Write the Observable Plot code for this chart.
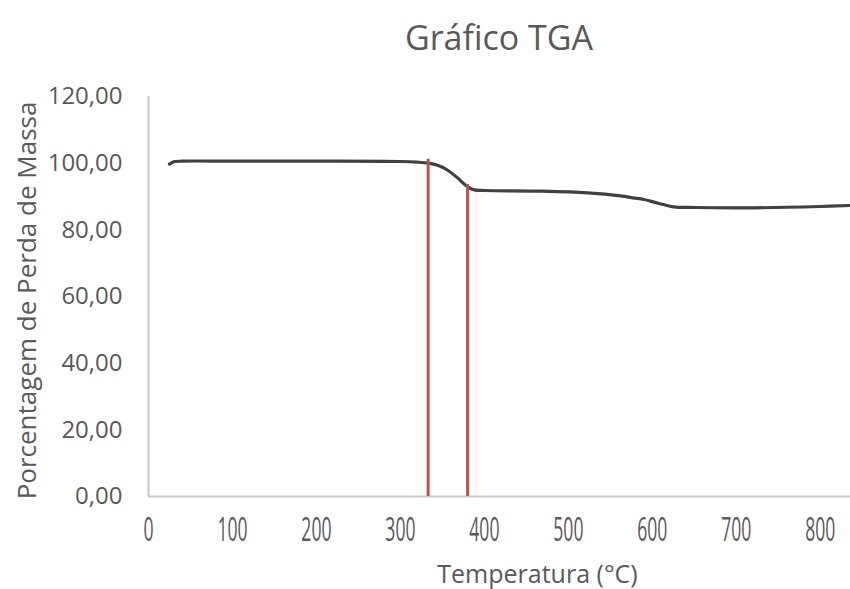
<!DOCTYPE html>
<html>
<head>
<meta charset="utf-8">
<script src="https://cdn.jsdelivr.net/npm/d3@7"></script>
<script src="https://cdn.jsdelivr.net/npm/@observablehq/plot@0.6"></script>
<style>
  html, body { margin: 0; padding: 0; background: #fff; }
  #chart { width: 850px; height: 589px; overflow: hidden; font-family: "Open Sans", sans-serif; }
  .title {
    height: 70px; line-height: 74px; box-sizing: border-box;
    padding-left: 148px; text-align: center;
    font-size: 34px; color: #595959;
  }
</style>
</head>
<body>
<div id="chart">
  <div class="title">Gráfico TGA</div>
</div>
<script>
// Thermogravimetric curve: temperature (°C) and remaining mass (%)
const temperature = [25, 30, 40, 100, 200, 300, 320, 333, 345, 355, 368, 380, 388, 400, 467, 523, 562, 577, 590, 601, 613, 625, 650, 720, 800, 836];
const massPercent = [99.7, 100.4, 100.6, 100.6, 100.6, 100.5, 100.3, 100.0, 99.3, 98.1, 95.6, 92.9, 92.0, 91.8, 91.6, 91.1, 90.2, 89.6, 89.1, 88.4, 87.6, 86.9, 86.7, 86.6, 87.0, 87.3];

// Onset / end markers of the main mass-loss step
const markerTemp = [333, 380];
const markerTop = [101.2, 93.6];

const yTicks = [0, 20, 40, 60, 80, 100, 120];
const xTicks = [0, 100, 200, 300, 400, 500, 600, 700, 800];

const curve = temperature.map((t, i) => ({temp: t, mass: massPercent[i]}));
const markers = markerTemp.map((t, i) => ({temp: t, top: markerTop[i]}));

const fmt = d => d.toFixed(2).replace(".", ",");

const plot = Plot.plot({
  width: 850,
  height: 519,
  marginTop: 26,
  marginBottom: 93,
  marginLeft: 148,
  marginRight: 0,
  style: {fontFamily: "'Open Sans', sans-serif", color: "#595959", background: "#fff"},
  x: {domain: [0, 836]},
  y: {domain: [0, 120]},
  marks: [
    Plot.axisY({ticks: yTicks, tickFormat: fmt, tickSize: 0, tickPadding: 26, fontSize: 24, label: null}),
    Plot.axisX({ticks: xTicks, tickSize: 0, tickPadding: 22, fontSize: 32, label: null, className: "xtick"}),
    Plot.ruleX([0], {y1: 0, y2: 120, stroke: "#c8c8c8", strokeWidth: 2}),
    Plot.ruleY([0], {stroke: "#c8c8c8", strokeWidth: 2}),
    Plot.line(curve, {x: "temp", y: "mass", stroke: "#404040", strokeWidth: 3.2, curve: "catmull-rom", clip: true}),
    Plot.ruleX(markers, {x: "temp", y1: 0, y2: "top", stroke: "#c0504d", strokeWidth: 3}),
    Plot.text(["Temperatura (°C)"], {frameAnchor: "bottom", textAnchor: "middle", dx: 38, dy: 86, fontSize: 25, fill: "#595959"}),
    Plot.text(["Porcentagem de Perda de Massa"], {frameAnchor: "left", textAnchor: "middle", rotate: -90, dx: -121, dy: 4, fontSize: 26, fill: "#595959"})
  ]
});

// Narrow the temperature tick labels horizontally
d3.select(plot).selectAll(".xtick text").each(function () {
  const t = this.getAttribute("transform") || "";
  this.setAttribute("transform", `${t} scale(0.55,1)`);
});

document.getElementById("chart").appendChild(plot);
</script>
</body>
</html>
